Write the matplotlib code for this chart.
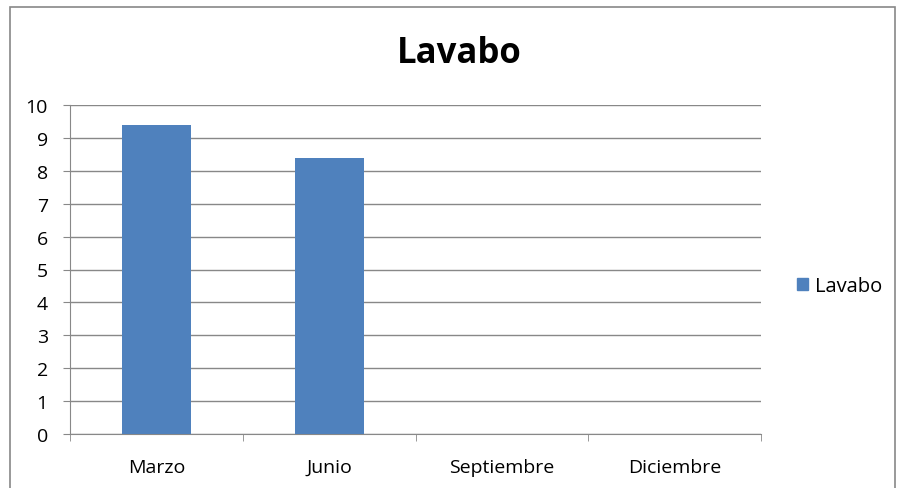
import matplotlib
matplotlib.use("Agg")
import matplotlib.pyplot as plt
from matplotlib.patches import Rectangle, Patch

# chart data
categories = ["Marzo", "Junio", "Septiembre", "Diciembre"]
values = [9.4, 8.4, 0, 0]
series_name = "Lavabo"

plt.rcParams['font.family'] = ['Open Sans', 'DejaVu Sans']

fig = plt.figure(figsize=(8.97, 4.89), dpi=100)
ax = fig.add_axes([70/897, 1-435/489, (761-70)/897, (435-106)/489])

x = range(len(categories))
ax.bar(x, values, width=0.4, color="#4f81bd", zorder=3)

ax.set_xlim(-0.5, len(categories) - 0.5)
ax.set_ylim(0, 10)
ax.set_yticks(range(0, 11))
ax.set_xticks(list(x))
ax.set_xticklabels(categories, fontsize=14)
ax.set_xticks([i + 0.5 for i in range(-1, len(categories))], minor=True)
ax.tick_params(axis="x", which="major", length=0, pad=17)
ax.tick_params(axis="x", which="minor", length=5, color="#888888", direction="out")
ax.tick_params(axis="y", length=5, color="#888888", labelsize=14, pad=11)

ax.grid(axis="y", color="#888888", linewidth=1, zorder=0)
for side in ["top", "right"]:
    ax.spines[side].set_visible(False)
ax.spines["left"].set_color("#888888")
ax.spines["bottom"].set_color("#888888")

fig.text(459/897, 1-54/489, "Lavabo", fontsize=25, fontweight="bold",
         ha="center", va="center")

fig.legend(handles=[Patch(color="#4f81bd", label=series_name)],
           loc="center left", bbox_to_anchor=(779/897, 1-287/489),
           frameon=False, fontsize=14.5, handlelength=0.55, handleheight=0.55,
           handletextpad=0.35)

fig.patches.append(Rectangle((10/897, -0.1), (895-10)/897, 1.1-8/489,
                             transform=fig.transFigure, fill=False,
                             edgecolor="#888888", linewidth=1.2))

fig.savefig("out.png", dpi=100)
